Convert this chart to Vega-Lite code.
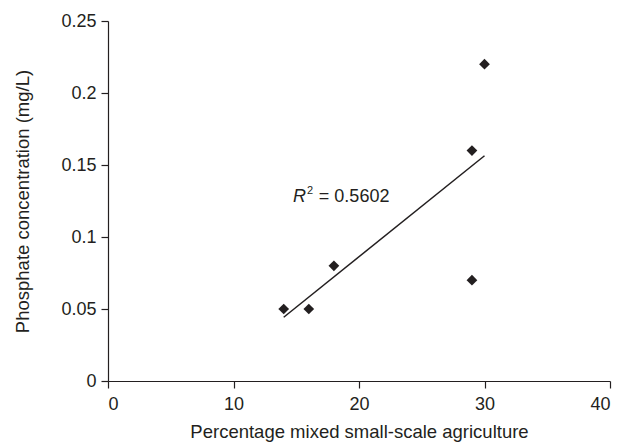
{
  "$schema": "https://vega.github.io/schema/vega-lite/v6.json",
  "width": 502,
  "height": 360,
  "autosize": {"type": "none"},
  "padding": {"left": 108, "top": 21, "right": 11, "bottom": 62},
  "background": "white",
  "config": {
    "view": {"stroke": null},
    "font": "Liberation Sans",
    "axis": {
      "grid": false,
      "domainColor": "#231f20",
      "tickColor": "#231f20",
      "labelColor": "#231f20",
      "titleColor": "#231f20",
      "labelFont": "Liberation Sans",
      "titleFont": "Liberation Sans",
      "labelFontSize": 18,
      "titleFontSize": 18.5,
      "titleFontWeight": "normal",
      "tickSize": 7,
      "domainWidth": 1.2,
      "tickWidth": 1.2
    }
  },
  "datasets": {
    "pts": [
      {"pct": 14, "phos": 0.05},
      {"pct": 16, "phos": 0.05},
      {"pct": 18, "phos": 0.08},
      {"pct": 29, "phos": 0.16},
      {"pct": 29, "phos": 0.07},
      {"pct": 30, "phos": 0.22}
    ],
    "lbl": [
      {"pct": 14.75, "phos": 0.1275, "t": "R"},
      {"pct": 15.85, "phos": 0.1318, "t": "2"},
      {"pct": 16.8, "phos": 0.1275, "t": "= 0.5602"}
    ]
  },
  "layer": [
    {
      "data": {"name": "pts"},
      "transform": [{"regression": "phos", "on": "pct", "extent": [14, 30]}],
      "mark": {"type": "line", "color": "#231f20", "strokeWidth": 1.5},
      "encoding": {
        "x": {"field": "pct", "type": "quantitative"},
        "y": {"field": "phos", "type": "quantitative"}
      }
    },
    {
      "data": {"name": "pts"},
      "mark": {"type": "point", "shape": "diamond", "filled": true, "color": "#231f20", "size": 115, "opacity": 1},
      "encoding": {
        "x": {
          "field": "pct", "type": "quantitative",
          "scale": {"domain": [0, 40], "nice": false},
          "axis": {"values": [0, 10, 20, 30, 40], "title": "Percentage mixed small-scale agriculture", "labelPadding": 7, "titlePadding": 9}
        },
        "y": {
          "field": "phos", "type": "quantitative",
          "scale": {"domain": [0, 0.25], "nice": false},
          "axis": {"values": [0, 0.05, 0.1, 0.15, 0.2, 0.25], "format": ".2~f", "title": "Phosphate concentration (mg/L)", "labelPadding": 5, "titlePadding": 28}
        }
      }
    },
    {
      "data": {"name": "lbl"},
      "transform": [{"filter": "datum.t == 'R'"}],
      "mark": {"type": "text", "align": "left", "baseline": "middle", "fontSize": 18, "fontStyle": "italic", "color": "#231f20"},
      "encoding": {
        "x": {"field": "pct", "type": "quantitative"},
        "y": {"field": "phos", "type": "quantitative"},
        "text": {"field": "t"}
      }
    },
    {
      "data": {"name": "lbl"},
      "transform": [{"filter": "datum.t == '2'"}],
      "mark": {"type": "text", "align": "left", "baseline": "middle", "fontSize": 11, "color": "#231f20"},
      "encoding": {
        "x": {"field": "pct", "type": "quantitative"},
        "y": {"field": "phos", "type": "quantitative"},
        "text": {"field": "t"}
      }
    },
    {
      "data": {"name": "lbl"},
      "transform": [{"filter": "datum.t == '= 0.5602'"}],
      "mark": {"type": "text", "align": "left", "baseline": "middle", "fontSize": 18, "color": "#231f20"},
      "encoding": {
        "x": {"field": "pct", "type": "quantitative"},
        "y": {"field": "phos", "type": "quantitative"},
        "text": {"field": "t"}
      }
    }
  ]
}
